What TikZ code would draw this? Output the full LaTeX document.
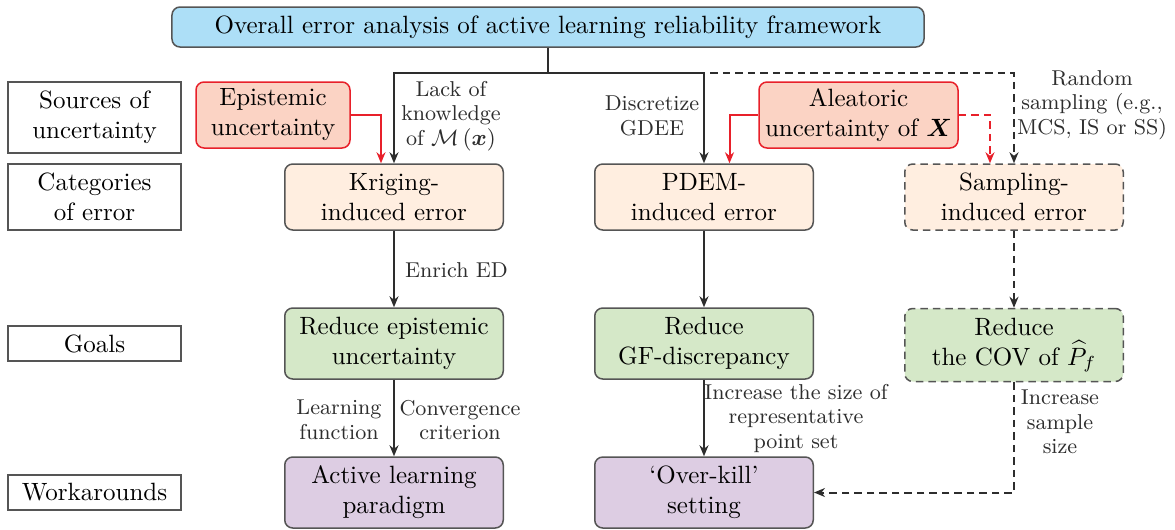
\documentclass[tikz,border=0pt]{standalone}
\usepackage{amsmath}
\usetikzlibrary{arrows.meta}
\definecolor{topblue}{RGB}{173,223,247}
\definecolor{episalmon}{RGB}{251,211,196}
\definecolor{errpeach}{RGB}{255,238,224}
\definecolor{goalgreen}{RGB}{213,232,200}
\definecolor{workpurple}{RGB}{221,205,227}
\definecolor{boxgray}{RGB}{85,85,85}
\definecolor{linegray}{RGB}{45,45,45}
\definecolor{myred}{RGB}{232,32,42}
\begin{document}
\begin{tikzpicture}[x=0.4pt,y=-0.4pt,
  box/.style={draw=boxgray, line width=0.6pt, rounded corners=3.2pt, inner sep=0pt, align=center, font=\fontsize{10}{12}\selectfont, minimum width=87.4pt},
  lab/.style={draw=boxgray, line width=0.6pt, fill=white, minimum width=69.2pt, inner sep=0pt, align=center, font=\fontsize{10}{12}\selectfont},
  tag/.style={font=\fontsize{8.6}{9.8}\selectfont, align=center, inner sep=1pt, text=linegray},
  arr/.style={-{Stealth[length=4.4pt,width=3.6pt]}, line width=0.8pt, draw=linegray},
  redarr/.style={arr, draw=myred},
  dsh/.style={dash pattern=on 3pt off 2pt}]
\useasboundingbox (0,0) rectangle (1175,529);

% row labels
\node[lab, minimum height=28.4pt] (src) at (94.5,117.5) {Sources of\\uncertainty};
\node[lab, minimum height=26.4pt] (cat) at (94.5,197) {Categories\\of error};
\node[lab, minimum height=14pt] (goa) at (94.5,343.5) {Goals};
\node[lab, minimum height=14pt] (wor) at (94.5,492.5) {Workarounds};

% top
\node[box, fill=topblue, minimum width=300.8pt, minimum height=16pt] (top) at (548,27) {Overall error analysis of active learning reliability framework};

% sources
\node[box, fill=episalmon, draw=myred, minimum width=61.6pt, minimum height=26.4pt] (epi) at (273,115) {Epistemic\\uncertainty};
\node[box, fill=episalmon, draw=myred, minimum width=79.6pt, minimum height=26.4pt] (ale) at (858.5,115) {Aleatoric\\uncertainty of $\boldsymbol{X}$};

% errors
\node[box, fill=errpeach, minimum height=26.4pt] (krig) at (394,197) {Kriging-\\induced error};
\node[box, fill=errpeach, minimum height=26.4pt] (pdem) at (704,197) {PDEM-\\induced error};
\node[box, fill=errpeach, dsh, minimum height=26.4pt] (samp) at (1014,197) {Sampling-\\induced error};

% goals
\node[box, fill=goalgreen, minimum height=28.4pt] (redu) at (394,343.5) {Reduce epistemic\\uncertainty};
\node[box, fill=goalgreen, minimum height=28.4pt] (gf) at (704,343.5) {Reduce\\GF-discrepancy};
\node[box, fill=goalgreen, dsh, minimum height=29.2pt] (cov) at (1014,345) {Reduce\\the COV of $\widehat{P}_f$};

% workarounds
\node[box, fill=workpurple, minimum height=28.4pt] (act) at (394,492.5) {Active learning\\paradigm};
\node[box, fill=workpurple, minimum height=28.4pt] (over) at (704,492.5) {`Over-kill'\\setting};

% connectors from top
\coordinate (j) at (548,73);
\draw[arr, dsh] (top.south) -- (j) -| (samp.north);
\draw[arr] (top.south) -- (j) -| (krig.north);
\draw[arr] (j) -| (pdem.north);

% red connectors
\draw[redarr] (epi.east) -| ([xshift=-5.2pt]krig.north);
\draw[redarr] (ale.west) -| ([xshift=10.2pt]pdem.north);
\draw[redarr, dsh] (ale.east) -| ([xshift=-9.6pt]samp.north);

% vertical connectors
\draw[arr] (krig) -- (redu);
\draw[arr] (redu) -- (act);
\draw[arr] (pdem) -- (gf);
\draw[arr] (gf) -- (over);
\draw[arr, dsh] (samp) -- (cov);
\draw[arr, dsh] (cov.south) |- (over.east);

% labels
\node[tag] (t1) at (451,116) {Lack of\\knowledge\\of $\mathcal{M}\left(\boldsymbol{x}\right)$};
\node[tag] (t2) at (652,116) {Discretize\\GDEE};
\node[tag] (t3) at (1092,105) {Random\\sampling (e.g.,\\MCS, IS or SS)};
\node[tag, anchor=west] (t4) at (402,270) {Enrich ED};
\node[tag] (t5) at (339,420) {Learning\\function};
\node[tag] (t6) at (460,420) {Convergence\\criterion};
\node[tag] (t7) at (796,418) {Increase the size of\\representative\\point set};
\node[tag] (t8) at (1060,422) {Increase\\sample\\size};
\end{tikzpicture}
\end{document}
